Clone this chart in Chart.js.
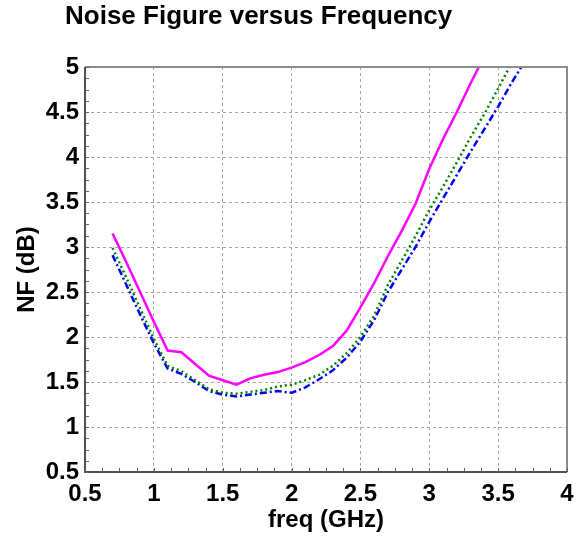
<!DOCTYPE html>
<html>
<head>
<meta charset="utf-8">
<script src="https://cdn.jsdelivr.net/npm/chart.js@4.4.1/dist/chart.umd.min.js"></script>
<style>
  html, body { margin: 0; padding: 0; background: #fff; }
  #wrap { position: relative; width: 585px; height: 541px; }
  #title {
    position: absolute; left: 65px; top: 0px;
    font: bold 26px "Liberation Sans", Arial, sans-serif; color: #000;
    white-space: nowrap;
  }
</style>
</head>
<body>
<div id="wrap">
  <div id="title">Noise Figure versus Frequency</div>
  <canvas id="nf-chart" width="585" height="541"></canvas>
</div>
<script>
// frequency points (GHz) and NF values (dB)
const freqGHz = [0.7, 0.8, 0.9, 1.0, 1.1, 1.2, 1.3, 1.4, 1.5, 1.6, 1.7, 1.8, 1.9, 2.0,
  2.1, 2.2, 2.3, 2.4, 2.5, 2.6, 2.7, 2.8, 2.9, 3.0, 3.1, 3.2, 3.3, 3.4, 3.5, 3.6, 3.7];
const nfMagenta = [3.15, 2.83, 2.50, 2.17, 1.85, 1.83, 1.70, 1.57, 1.52, 1.47, 1.54, 1.58, 1.61, 1.66,
  1.72, 1.80, 1.90, 2.07, 2.33, 2.60, 2.90, 3.18, 3.48, 3.87, 4.20, 4.50, 4.82, 5.12];
const nfGreen = [2.99, 2.66, 2.32, 1.98, 1.68, 1.62, 1.52, 1.42, 1.38, 1.37, 1.39, 1.41, 1.45, 1.47,
  1.52, 1.58, 1.68, 1.82, 2.00, 2.24, 2.58, 2.85, 3.12, 3.41, 3.67, 3.94, 4.22, 4.48, 4.76, 5.05];
const nfBlue = [2.91, 2.58, 2.25, 1.93, 1.65, 1.59, 1.50, 1.40, 1.36, 1.34, 1.36, 1.38, 1.40, 1.38,
  1.44, 1.53, 1.63, 1.77, 1.95, 2.19, 2.50, 2.75, 3.00, 3.28, 3.54, 3.80, 4.06, 4.31, 4.56, 4.83, 5.08];
const xTickStep = 0.5;
const yTickStep = 0.5;

const fontFamily = '"Liberation Sans", Arial, sans-serif';

function toPoints(values) {
  return values.map((v, i) => ({ x: freqGHz[i], y: v }));
}

function tickText(v) {
  return String(+Number(v).toFixed(3));
}

// frame round the plot area plus small minor ticks every 0.125
const framePlugin = {
  id: "frame",
  afterDatasetsDraw(chart) {
    const { ctx, chartArea: a, scales } = chart;
    ctx.save();
    ctx.lineWidth = 2;
    ctx.strokeStyle = "#8c8c8c";
    ctx.beginPath();
    ctx.moveTo(a.left, a.top);
    ctx.lineTo(a.right, a.top);
    ctx.lineTo(a.right, a.bottom);
    ctx.stroke();
    ctx.strokeStyle = "#505050";
    ctx.beginPath();
    ctx.moveTo(a.left, a.top);
    ctx.lineTo(a.left, a.bottom);
    ctx.lineTo(a.right, a.bottom);
    ctx.stroke();

    ctx.lineWidth = 1;
    ctx.strokeStyle = "#606060";
    ctx.beginPath();
    for (let v = 0.5; v <= 4.0001; v += 0.125) {
      const px = Math.round(scales.x.getPixelForValue(v)) + 0.5;
      ctx.moveTo(px, a.bottom);
      ctx.lineTo(px, a.bottom - 4);
    }
    for (let v = 0.5; v <= 5.0001; v += 0.125) {
      const py = Math.round(scales.y.getPixelForValue(v)) + 0.5;
      ctx.moveTo(a.left, py);
      ctx.lineTo(a.left + 4, py);
    }
    ctx.stroke();
    ctx.restore();
  },
};

function gridColor(ctx) {
  const s = ctx.scale;
  const v = ctx.tick ? ctx.tick.value : null;
  if (v === s.min || v === s.max) return "rgba(0,0,0,0)";
  return "#a6a6a6";
}

new Chart(document.getElementById("nf-chart"), {
  type: "line",
  data: {
    datasets: [
      {
        label: "NF 1",
        data: toPoints(nfMagenta),
        borderColor: "#ff00ff",
        borderWidth: 2.5,
        pointRadius: 0,
        tension: 0,
        clip: 0,
      },
      {
        label: "NF 2",
        data: toPoints(nfGreen),
        borderColor: "#008000",
        borderWidth: 2.5,
        borderDash: [2, 3],
        pointRadius: 0,
        tension: 0,
        clip: 0,
      },
      {
        label: "NF 3",
        data: toPoints(nfBlue),
        borderColor: "#0000ff",
        borderWidth: 2.5,
        borderDash: [7, 3, 2, 3],
        pointRadius: 0,
        tension: 0,
        clip: 0,
      },
    ],
  },
  options: {
    responsive: false,
    animation: false,
    layout: { padding: { top: 67, right: 18, left: 0, bottom: 0 } },
    plugins: {
      legend: { display: false },
      tooltip: { enabled: false },
    },
    scales: {
      x: {
        type: "linear",
        min: 0.5,
        max: 4,
        afterFit: (scale) => { scale.height = 69; },
        ticks: {
          stepSize: xTickStep,
          color: "#000",
          padding: 8,
          callback: tickText,
          font: { family: fontFamily, size: 24, weight: "bold" },
        },
        grid: { color: gridColor, lineWidth: 1, drawTicks: false },
        border: { display: false, dash: [3, 3] },
        title: {
          display: true,
          text: "freq (GHz)",
          color: "#000",
          padding: { top: 0, bottom: 6 },
          font: { family: fontFamily, size: 24, weight: "bold" },
        },
      },
      y: {
        type: "linear",
        min: 0.5,
        max: 5,
        afterFit: (scale) => { scale.width = 85; },
        ticks: {
          stepSize: yTickStep,
          color: "#000",
          padding: 6,
          callback: tickText,
          font: { family: fontFamily, size: 24, weight: "bold" },
        },
        grid: { color: gridColor, lineWidth: 1, drawTicks: false },
        border: { display: false, dash: [3, 3] },
        title: {
          display: true,
          text: "NF (dB)",
          color: "#000",
          padding: { top: 13, bottom: 0 },
          font: { family: fontFamily, size: 24, weight: "bold" },
        },
      },
    },
  },
  plugins: [framePlugin],
});
</script>
</body>
</html>
